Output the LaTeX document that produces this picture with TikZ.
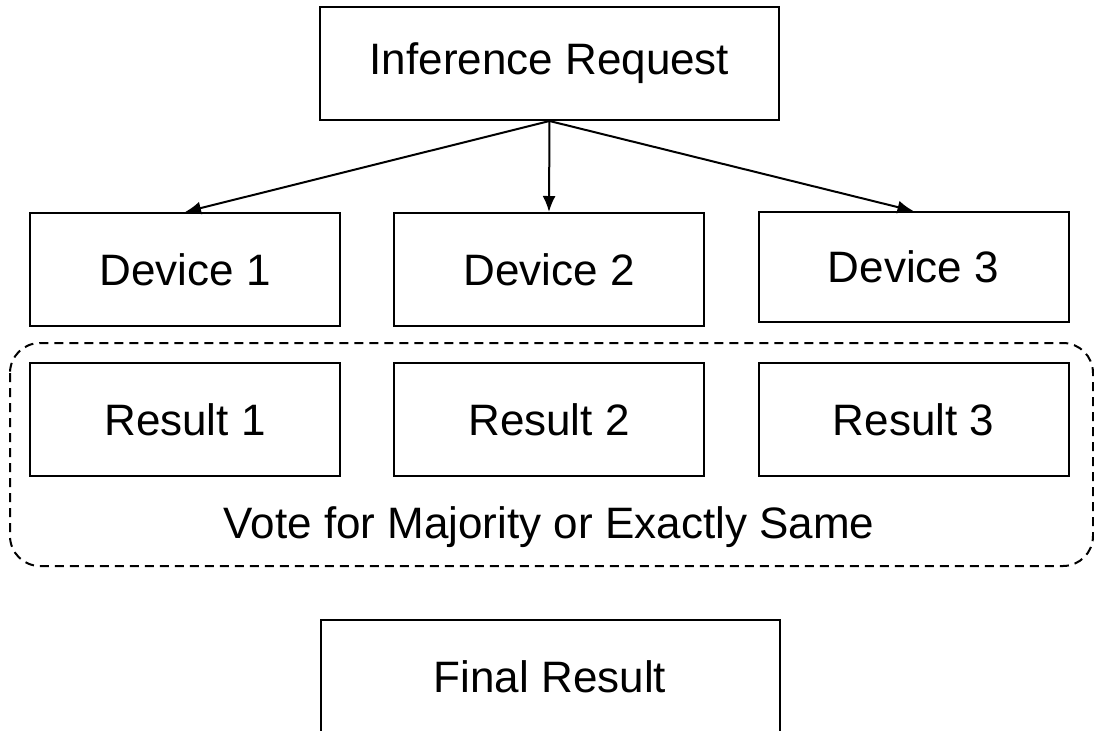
\documentclass[tikz,border=0pt]{standalone}
\usepackage{fontspec}
\setmainfont{Liberation Sans}
\usepackage{tikz}
\usetikzlibrary{arrows.meta}

\tikzset{
    box/.style={draw, line width=1pt, inner sep=0pt, minimum width=155pt, minimum height=56.5pt, font=\fontsize{22}{26}\selectfont},
    wide/.style={box, minimum width=229.5pt},
    link/.style={line width=1pt, -{Latex[length=8pt, width=6.5pt]}}
}

\begin{document}
\begin{tikzpicture}[x=.5pt, y=-.5pt]
            \useasboundingbox (0, 0) rectangle (1094, 730);

            \node[wide] (req) at (549.5, 63.5) {Inference Request};

            \node[box] (dev1) at (185, 269.5) {Device 1};
            \node[box] (dev2) at (549, 269.5) {Device 2};
            \node[box, minimum height=55pt] (dev3) at (913.5, 267) {Device 3};

            \node[box] (res1) at (185, 419.5) {Result 1};
            \node[box] (res2) at (549, 419.5) {Result 2};
            \node[box] (res3) at (913.5, 419.5) {Result 3};

            \draw[line width=1pt, dashed, dash pattern=on 4.5pt off 3pt, rounded corners=15pt] (10, 343) rectangle (1093, 566);
            \node[draw=none, font=\fontsize{22}{26}\selectfont] (vote) at (549, 527) {Vote for Majority or Exactly Same};

            \node[wide] (final) at (550, 676.5) {Final Result};

            \draw[link] (req.south) -- (dev1.north);
            \draw[link] (req.south) -- (dev2.north);
            \draw[link] (req.south) -- (dev3.north);

\end{tikzpicture}
\end{document}
